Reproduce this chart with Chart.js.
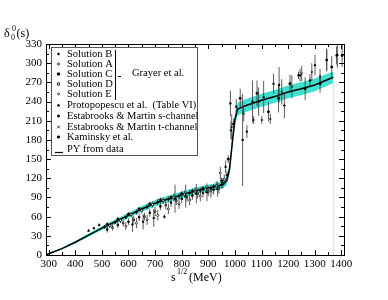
<!DOCTYPE html>
<html>
<head>
<meta charset="utf-8">
<script src="https://cdn.jsdelivr.net/npm/chart.js@4.4.1/dist/chart.umd.min.js"></script>
<style>
  html, body { margin: 0; padding: 0; background: #fff; }
  #wrap { width: 388px; height: 300px; }
</style>
</head>
<body>
<div id="wrap"><canvas id="chart" width="388" height="300"></canvas></div>
<script>
// axis ticks
const xTicks = [300, 400, 500, 600, 700, 800, 900, 1000, 1100, 1200, 1300, 1400];
const yTicks = [0, 30, 60, 90, 120, 150, 180, 210, 240, 270, 300, 330];

// PY from data (central curve and band)
const pyEnergy = [290, 300, 350, 400, 450, 500, 550, 600, 650, 700, 750, 800, 850, 900, 940, 960, 970, 980, 990, 1000, 1010, 1030, 1050, 1100, 1150, 1200, 1250, 1300, 1370];
const pyPhase  = [0, 2, 10, 20, 31, 42, 52, 62, 72, 81, 88, 94, 100, 105, 108, 112, 117, 135, 175, 212, 228, 232, 235, 242, 248, 255, 260, 266, 278];
const pyUpper  = [0.5, 3, 11.5, 22, 33.5, 45, 55.5, 66, 76.5, 86, 93, 99, 105, 110, 113.5, 118, 124, 143, 185, 222, 238, 242, 245, 252, 258, 265, 270, 276, 287];
const pyLower  = [0, 1, 8.5, 18, 28.5, 39, 48.5, 58, 67.5, 76, 83, 89, 95, 100, 102.5, 106, 110, 127, 165, 202, 218, 222, 225, 232, 238, 245, 250, 256, 269];
const pyEnd = 1370;

// Grayer et al.
const solBE = [510, 550, 590, 630, 670, 710, 750, 790, 830, 870, 910, 950, 970];
const solBD = [44, 51, 59, 67, 75, 83, 87, 92, 97, 101, 104, 110, 125];
const solBErr = [3, 3, 4, 4, 4, 5, 5, 5, 5, 5, 5, 6, 6];

const solAE = [530, 570, 610, 650, 690, 730, 770, 810, 850, 890, 930, 960];
const solAD = [46, 54, 63, 70, 79, 85, 90, 95, 100, 103, 108, 118];
const solAErr = [4, 4, 4, 5, 5, 5, 6, 6, 6, 6, 7, 8];

const solCE = [520, 560, 600, 640, 680, 720, 760, 800, 840, 880, 920, 955];
const solCD = [40, 47, 52, 59, 66, 76, 82, 88, 93, 97, 102, 112];
const solCErr = [5, 5, 5, 6, 6, 6, 7, 7, 7, 7, 8, 8];

const solDE = [540, 580, 620, 660, 700, 740, 780, 820, 860, 900, 940];
const solDD = [43, 50, 55, 60, 68, 78, 85, 90, 96, 100, 104];
const solDErr = [5, 5, 6, 6, 7, 7, 7, 7, 8, 8, 8];

const solEE = [590, 630, 670, 710, 750, 790, 830, 870, 910, 945];
const solED = [45, 50, 55, 62, 72, 80, 86, 92, 98, 128];
const solEErr = [6, 8, 8, 8, 8, 8, 8, 8, 8, 10];

// Protopopescu et al.
const protE = [450, 470, 490, 615, 655, 695, 735, 775, 815, 855, 895, 935, 965, 985, 1005, 1045, 1066, 1108, 1145, 1186, 1245, 1301, 1345, 1385];
const protD = [38, 42, 47, 48, 52, 58, 60, 88, 92, 96, 98, 103, 138, 195, 232, 193, 240, 247, 268, 234, 281, 297, 305, 313];
const protErr = [2, 2, 2, 12, 12, 14, 3, 22, 18, 15, 14, 12, 10, 14, 12, 10, 33, 25, 16, 20, 10, 16, 18, 20];

// Estabrooks & Martin
const esE = [520, 560, 600, 640, 680, 720, 760, 800, 840, 880, 920, 950, 975, 995, 1020, 1083, 1126, 1164, 1207, 1264, 1320, 1364, 1403];
const esD = [48, 56, 64, 72, 80, 86, 90, 96, 100, 104, 107, 116, 150, 205, 245, 253, 224, 245, 268, 260, 268, 294, 312];
const esErr = [3, 3, 3, 3, 3, 4, 4, 4, 4, 4, 4, 5, 6, 8, 15, 20, 15, 22, 14, 18, 14, 17, 18];

const etE = [988, 1033, 1070, 1101, 1133, 1176, 1214, 1251, 1289, 1320];
const etD = [200, 221, 211, 211, 213, 255, 263, 284, 286, 279];
const etErr = [20, 12, 6, 6, 8, 20, 18, 12, 14, 12];

// Kaminsky et al.
const kamE = [983, 1029, 1089, 1166, 1239, 1282, 1345, 1382];
const kamD = [237, 180, 240, 266, 281, 273, 305, 312];
const kamErr = [20, 72, 22, 28, 6, 10, 16, 14];

const series = [
  { label: 'Solution B', e: solBE, d: solBD, err: solBErr, style: 'circle', fill: true, r: 0.9 },
  { label: 'Solution A', e: solAE, d: solAD, err: solAErr, style: 'circle', fill: false, r: 1.1 },
  { label: 'Solution C', e: solCE, d: solCD, err: solCErr, style: 'rect', fill: true, r: 1.1 },
  { label: 'Solution D', e: solDE, d: solDD, err: solDErr, style: 'rect', fill: false, r: 1.1 },
  { label: 'Solution E', e: solEE, d: solED, err: solEErr, style: 'rectRot', fill: false, r: 1.2 },
  { label: 'Protopopescu et al.  (Table VI)', e: protE, d: protD, err: protErr, style: 'triangle', fill: true, r: 1.1 },
  { label: 'Estabrooks & Martin s-channel', e: esE, d: esD, err: esErr, style: 'circle', fill: true, r: 1.1 },
  { label: 'Estabrooks & Martin t-channel', e: etE, d: etD, err: etErr, style: 'crossRot', fill: false, r: 1.3 },
  { label: 'Kaminsky et al.', e: kamE, d: kamD, err: kamErr, style: 'rect', fill: true, r: 1 }
];

const SERIF = '"Liberation Serif", "DejaVu Serif", serif';
const TEAL = '#40e0d0';

const errorBars = [];
series.forEach(s => s.e.forEach((m, i) => {
  errorBars.push({ x: m, y: s.d[i] - s.err[i] }, { x: m, y: s.d[i] + s.err[i] }, { x: m, y: null });
}));

const datasets = series.map(s => ({
  label: s.label,
  data: s.e.map((m, i) => ({ x: m, y: s.d[i] })),
  pointStyle: s.style,
  pointRadius: s.r,
  pointBorderWidth: 0.8,
  pointBorderColor: '#000',
  pointBackgroundColor: s.fill ? '#000' : '#fff',
  showLine: false,
  order: 0
}));

datasets.push({
  label: 'errors',
  data: errorBars,
  showLine: true,
  spanGaps: false,
  borderColor: '#333',
  borderWidth: 0.8,
  pointRadius: 0,
  order: 1
});
datasets.push({
  label: 'PY from data',
  data: pyEnergy.map((m, i) => ({ x: m, y: pyPhase[i] })),
  showLine: true,
  borderColor: '#000',
  borderWidth: 1.5,
  pointRadius: 0,
  tension: 0,
  order: 2
});
datasets.push({
  label: 'edge',
  data: [{ x: pyEnd, y: 0 }, { x: pyEnd, y: pyPhase[pyPhase.length - 1] }],
  showLine: true,
  borderColor: '#b8f4f0',
  borderWidth: 1,
  pointRadius: 0,
  order: 3
});
datasets.push({
  label: 'band low',
  data: pyEnergy.map((m, i) => ({ x: m, y: pyLower[i] })),
  showLine: true,
  borderWidth: 0,
  borderColor: TEAL,
  pointRadius: 0,
  fill: false,
  order: 4
});
datasets.push({
  label: 'band high',
  data: pyEnergy.map((m, i) => ({ x: m, y: pyUpper[i] })),
  showLine: true,
  borderWidth: 0,
  borderColor: TEAL,
  backgroundColor: TEAL,
  pointRadius: 0,
  fill: '-1',
  order: 5
});

// frame with inward major/minor ticks on all sides
const framePlugin = {
  id: 'frame',
  afterDatasetsDraw(chart) {
    const { ctx, chartArea: a, scales: { x, y } } = chart;
    ctx.save();
    ctx.strokeStyle = '#000';
    ctx.lineWidth = 1;
    ctx.strokeRect(Math.round(a.left) + 0.5, Math.round(a.top) + 0.5, Math.round(a.right - a.left), Math.round(a.bottom - a.top));
    ctx.beginPath();
    const xt = (v, len) => {
      const px = Math.round(x.getPixelForValue(v)) + 0.5;
      ctx.moveTo(px, a.bottom); ctx.lineTo(px, a.bottom - len);
      ctx.moveTo(px, a.top); ctx.lineTo(px, a.top + len);
    };
    const yt = (v, len) => {
      const py = Math.round(y.getPixelForValue(v)) + 0.5;
      ctx.moveTo(a.left, py); ctx.lineTo(a.left + len, py);
      ctx.moveTo(a.right, py); ctx.lineTo(a.right - len, py);
    };
    xTicks.forEach((v, i) => {
      xt(v, 5);
      if (i < xTicks.length - 1) xt((v + xTicks[i + 1]) / 2, 3);
    });
    yTicks.forEach((v, i) => {
      yt(v, 5);
      if (i < yTicks.length - 1) yt((v + yTicks[i + 1]) / 2, 3);
    });
    ctx.stroke();
    ctx.restore();
  }
};

function marker(ctx, s, cx, cy) {
  ctx.beginPath();
  const r = s.r;
  if (s.style === 'circle') ctx.arc(cx, cy, r, 0, Math.PI * 2);
  else if (s.style === 'rect') ctx.rect(cx - r, cy - r, 2 * r, 2 * r);
  else if (s.style === 'rectRot') { ctx.moveTo(cx, cy - r); ctx.lineTo(cx + r, cy); ctx.lineTo(cx, cy + r); ctx.lineTo(cx - r, cy); ctx.closePath(); }
  else if (s.style === 'triangle') { ctx.moveTo(cx, cy - r); ctx.lineTo(cx + r, cy + r); ctx.lineTo(cx - r, cy + r); ctx.closePath(); }
  else { ctx.moveTo(cx - r, cy - r); ctx.lineTo(cx + r, cy + r); ctx.moveTo(cx + r, cy - r); ctx.lineTo(cx - r, cy + r); }
  ctx.fillStyle = s.fill ? '#000' : '#fff';
  if (s.style !== 'crossRot') ctx.fill();
  ctx.strokeStyle = '#000';
  ctx.lineWidth = 0.8;
  ctx.stroke();
}

// legend box, bracket and axis titles
const legendRowsY = [54, 64, 74, 84, 94, 105, 116, 127, 137, 149];
const decorPlugin = {
  id: 'decor',
  afterDraw(chart) {
    const { ctx } = chart;
    ctx.save();
    ctx.fillStyle = '#fff';
    ctx.fillRect(51, 47, 146, 108);
    ctx.strokeStyle = '#555';
    ctx.lineWidth = 1;
    ctx.strokeRect(51.5, 47.5, 146, 108);
    ctx.font = '10.5px ' + SERIF;
    ctx.textBaseline = 'middle';
    series.forEach((s, i) => {
      marker(ctx, s, 58.5, legendRowsY[i]);
      ctx.fillStyle = '#000';
      ctx.fillText(s.label, 67, legendRowsY[i]);
    });
    const yPY = legendRowsY[legendRowsY.length - 1];
    ctx.beginPath();
    ctx.moveTo(55, yPY + 3.5); ctx.lineTo(63, yPY + 3.5);
    ctx.strokeStyle = '#000';
    ctx.lineWidth = 1.2;
    ctx.stroke();
    ctx.fillText('PY from data', 67, yPY);
    // bracket for Grayer et al.
    ctx.beginPath();
    ctx.lineWidth = 1;
    ctx.moveTo(115.5, 50); ctx.lineTo(115.5, 100);
    ctx.moveTo(118, 76.5); ctx.lineTo(121, 76.5);
    ctx.stroke();
    ctx.fillText('Grayer et al.', 132, 73);

    // y title: delta_0^0(s)
    ctx.textBaseline = 'alphabetic';
    ctx.font = '12px ' + SERIF;
    ctx.fillText('\u03b4', 4, 37);
    ctx.font = '8px ' + SERIF;
    ctx.fillText('0', 11, 40);
    ctx.fillText('0', 12, 31);
    ctx.font = '12px ' + SERIF;
    ctx.fillText('(s)', 16.5, 37);

    // x title: s^1/2 (MeV)
    ctx.fillText('s', 171, 281);
    ctx.font = '8px ' + SERIF;
    ctx.fillText('1/2', 177, 274);
    ctx.font = '12px ' + SERIF;
    ctx.fillText('(MeV)', 189, 281);
    ctx.restore();
  }
};

new Chart(document.getElementById('chart'), {
  type: 'scatter',
  data: { datasets },
  options: {
    responsive: false,
    animation: false,
    devicePixelRatio: 1,
    layout: { padding: { left: 0, right: 44, top: 44, bottom: 25 } },
    plugins: { legend: { display: false }, tooltip: { enabled: false } },
    scales: {
      x: {
        type: 'linear',
        min: 290,
        max: 1410,
        afterBuildTicks: s => { s.ticks = xTicks.map(v => ({ value: v })); },
        afterFit: s => { s.height = 20; },
        grid: { display: false, drawTicks: false },
        border: { display: false },
        ticks: { color: '#000', padding: 3, maxRotation: 0, autoSkip: false, callback: v => String(v), font: { family: SERIF, size: 11 } }
      },
      y: {
        type: 'linear',
        min: 0,
        max: 330,
        afterBuildTicks: s => { s.ticks = yTicks.map(v => ({ value: v })); },
        afterFit: s => { s.width = 46; },
        grid: { display: false, drawTicks: false },
        border: { display: false },
        ticks: { color: '#000', padding: 4, autoSkip: false, callback: v => String(v), font: { family: SERIF, size: 11 } }
      }
    }
  },
  plugins: [framePlugin, decorPlugin]
});
</script>
</body>
</html>
